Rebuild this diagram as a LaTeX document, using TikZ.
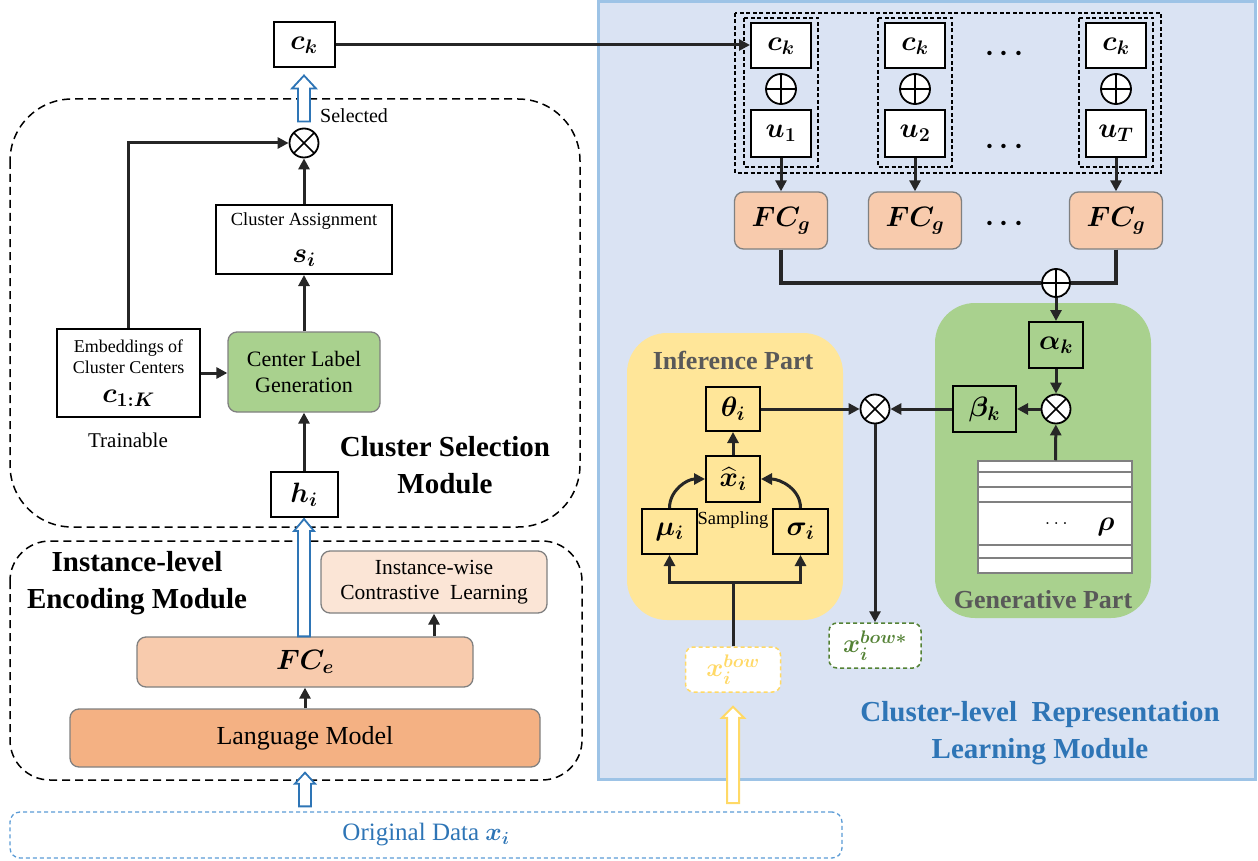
\RequirePackage{fix-cm}
\documentclass[tikz,border=0pt]{standalone}
\usepackage{amsmath,bm}
\usepackage{fontspec}
\setmainfont{Liberation Serif}
\usetikzlibrary{arrows.meta, calc}

\definecolor{panelfill}{HTML}{DAE3F3}
\definecolor{panelline}{HTML}{9DC3E6}
\definecolor{darkblue}{HTML}{2E75B6}
\definecolor{dashblue}{HTML}{5B9BD5}
\definecolor{leaf}{HTML}{A9D18E}
\definecolor{sand}{HTML}{FFE699}
\definecolor{sandline}{HTML}{FFD966}
\definecolor{peach}{HTML}{F8CBAD}
\definecolor{apricot}{HTML}{F4B183}
\definecolor{blush}{HTML}{FBE5D6}
\definecolor{slate}{HTML}{595959}
\definecolor{moss}{HTML}{548235}

\newcommand{\fsz}[2]{\fontsize{#1}{#2}\selectfont}

\begin{document}
\begin{tikzpicture}[x = 1pt, y = -1pt, > = {Triangle[length=11pt, width=11pt]},
	symbox/.style = {draw, line width=2pt, inner sep=0pt, font=\fsz{28}{32}},
	tinted/.style = {draw=gray, line width=1.3pt, rounded corners=9pt, inner sep=0pt, align=center},
	flow/.style = {->, line width=3pt, black!85},
	wire/.style = {line width=3.6pt, black!85},
	opnode/.style = {circle, draw, line width=1.8pt, fill=white, minimum size=29pt, inner sep=0pt},
	mulnode/.style = {opnode, path picture={\draw [line width=1.6pt] (path picture bounding box.north west) -- (path picture bounding box.south east) (path picture bounding box.north east) -- (path picture bounding box.south west);}},
	addnode/.style = {opnode, path picture={\draw [line width=1.6pt] (path picture bounding box.north) -- (path picture bounding box.south) (path picture bounding box.west) -- (path picture bounding box.east);}},
	module/.style = {dash pattern=on 8pt off 5pt, line width=1.5pt},
	heading/.style = {font=\bfseries\fsz{29}{37}, align=center, inner sep=0pt},
	partname/.style = {font=\bfseries\fsz{26}{30}, text=slate, inner sep=0pt},
	txt/.style = {inner sep=0pt, align=center},
	hollow/.style = {line width=1.8pt, fill=white},
]

	\useasboundingbox (0,0) rectangle (1258,861);

	% Backgrounds
	
	\draw [panelline, fill=panelfill, line width=3pt] (598,2) rectangle (1255,779);
	\fill [sand, rounded corners=40pt] (627,333) rectangle (843,620);
	\fill [leaf, rounded corners=40pt] (935,303) rectangle (1151,618);
	\draw [module, rounded corners=62pt] (10,99) rectangle (580,527);
	\draw [module, rounded corners=40pt] (10,541) rectangle (582,780);
	
	% Cluster selection module
	
	\node [symbox, fill=white, minimum width=61pt, minimum height=45pt] (ck) at (304,45) {$\bm{c_k}$};
	\node [mulnode] (selmul) at (304,143) {};
	\node [txt, font=\fsz{20}{22}, anchor=west] (sel) at (320,116) {Selected};
	\node [symbox, fill=white, minimum width=176pt, minimum height=69pt, align=center] (assign) at (304,239.5) {\fsz{18.5}{20}Cluster Assignment\\[5pt]\fsz{28}{30}$\bm{s_i}$};
	\node [symbox, fill=white, minimum width=143pt, minimum height=88pt, align=center, font=\fsz{18}{21}] (emb) at (128.5,373) {Embeddings of\\Cluster Centers\\[8pt]\fsz{28}{30}$\bm{c_{1:K}}$};
	\node [txt, font=\fsz{21}{22}] (train) at (128,440) {Trainable};
	\node [tinted, fill=leaf, minimum width=152pt, minimum height=80pt, font=\fsz{22}{26}] (clg) at (304,372) {Center Label\\Generation};
	\node [symbox, fill=white, minimum width=67pt, minimum height=45pt] (hi) at (304,494.5) {$\bm{h_i}$};
	\node [heading] (selname) at (445,465) {Cluster Selection\\Module};
	
	% Instance-level encoding module
	
	\node [heading] (encname) at (137,583.5) {Instance-level\\Encoding Module};
	\node [tinted, fill=blush, minimum width=226pt, minimum height=62pt, font=\fsz{21.5}{25}] (icl) at (434,582) {Instance-wise\\Contrastive\ \ Learning};
	\node [tinted, fill=peach, minimum width=336pt, minimum height=50pt, font=\fsz{28}{30}] (fce) at (305,662) {$\bm{FC_e}$};
	\node [tinted, fill=apricot, minimum width=470pt, minimum height=58pt, font=\fsz{26}{30}] (lm) at (305,738) {Language Model};
	\node [draw=dashblue, dash pattern=on 4pt off 3pt, line width=1.3pt, rounded corners=10pt, minimum width=832pt, minimum height=46pt, inner sep=0pt, text=darkblue, font=\fsz{25}{30}] (orig) at (426,835) {Original Data $\bm{x_i}$};
	
	% Cluster-conditioned generators
	
	\draw [dash pattern=on 4pt off 2.5pt, line width=1.4pt] (735,13) rectangle (1161,173);
	\foreach \cx/\n/\sub in {781/1/1, 915/2/2, 1116/3/T} {
		\draw [dash pattern=on 4pt off 2.5pt, line width=1.4pt] (\cx-37,18) rectangle (\cx+37,167);
		\node [symbox, fill=white, minimum width=60pt, minimum height=45pt] (ck\n) at (\cx,46) {$\bm{c_k}$};
		\node [addnode, minimum size=30pt] (cat\n) at (\cx,89) {};
		\node [symbox, fill=white, minimum width=60pt, minimum height=47pt] (u\n) at (\cx,133.5) {$\bm{u_{\sub}}$};
		\node [tinted, fill=peach, minimum width=93pt, minimum height=57pt, font=\fsz{28}{30}] (fcg\n) at (\cx,220.5) {$\bm{FC_g}$};
		\draw [flow] (u\n) -- (fcg\n);
	}
	\foreach \dy/\n in {54/1, 147/2, 224/3}
		\node [txt, font=\fsz{28}{30}] (dots\n) at (1007,\dy) {$\bm{\cdots}$};
	\node [addnode, minimum size=28pt] (sum) at (1056,283) {};
	
	% Generative part
	
	\node [symbox, minimum width=54pt, minimum height=46pt] (alpha) at (1056,345) {$\bm{\alpha_k}$};
	\node [mulnode] (genmul) at (1056,409) {};
	\node [symbox, minimum width=63pt, minimum height=46pt] (beta) at (984.5,409) {$\bm{\beta_k}$};
	\node [draw=gray, line width=1.5pt, fill=white, minimum width=154pt, minimum height=112pt, inner sep=0pt] (rho) at (1055,517) {};
	\foreach \ry in {472, 487, 502, 545, 558}
		\draw [gray, line width=1.5pt] (978,\ry) -- (1132,\ry);
	\node [txt, font=\fsz{20}{24}] (rdots) at (1058,524) {$\dots$};
	\node [txt, font=\fsz{28}{30}] (rhoname) at (1106,527) {$\bm{\rho}$};
	\node [partname] (genname) at (1043,600) {Generative Part};
	
	% Inference part
	
	\node [partname] (infname) at (733,360) {Inference Part};
	\node [symbox, minimum width=54pt, minimum height=44pt] (theta) at (733,409) {$\bm{\theta_i}$};
	\node [symbox, minimum width=54pt, minimum height=46pt] (xhat) at (733,479) {$\bm{\widehat{x}_i}$};
	\node [symbox, minimum width=55pt, minimum height=45pt] (mu) at (669.5,531.5) {$\bm{\mu_i}$};
	\node [symbox, minimum width=55pt, minimum height=45pt] (sigma) at (800.5,531.5) {$\bm{\sigma_i}$};
	\node [txt, font=\fsz{18.5}{20}] (samp) at (733,520) {Sampling};
	\node [mulnode] (infmul) at (875,409) {};
	\node [draw=moss, dash pattern=on 4pt off 3pt, line width=1.5pt, fill=white, rounded corners=8pt, minimum width=92pt, minimum height=45pt, inner sep=0pt, text=moss, font=\fsz{26}{30}] (xrec) at (875,645.5) {$\bm{x_i^{bow*}}$};
	\node [draw=sandline, dash pattern=on 4pt off 3pt, line width=1.5pt, fill=white, rounded corners=8pt, minimum width=95pt, minimum height=45pt, inner sep=0pt, text=sandline, font=\fsz{26}{30}] (xbow) at (733,669.5) {$\bm{x_i^{bow}}$};
	\coordinate (split) at (733,582);
	\coordinate (bowbase) at (733,803);
	\node [heading, text=darkblue] (clrname) at (1040,733.5) {Cluster-level\ \ Representation\\Learning Module};
	
	% Connectors
	
	\draw [flow] (ck.east) -- (ck.east -| ck1.west);
	\draw [flow] (emb.north) |- (selmul.west);
	\draw [flow] (emb.east) -- (emb.east -| clg.west);
	\draw [flow] (clg) -- (assign);
	\draw [flow] (assign) -- (selmul);
	\draw [flow] (hi) -- (clg);
	\draw [flow] (lm) -- (fce);
	\draw [flow] (fce.north -| icl.south) -- (icl.south);
	
	\draw [wire] (fcg1.south) |- (sum.west);
	\draw [wire] (fcg3.south) |- (sum.east);
	\draw [flow] (sum) -- (alpha);
	\draw [flow] (alpha) -- (genmul);
	\draw [flow] (rho) -- (genmul);
	\draw [flow] (genmul) -- (beta);
	\draw [flow] (beta) -- (infmul);
	\draw [flow] (theta) -- (infmul);
	\draw [flow] (infmul) -- (xrec);
	\draw [flow] (xhat) -- (theta);
	\draw [flow] (mu.north) to [out=90, in=180] (xhat.west);
	\draw [flow] (sigma.north) to [out=90, in=0] (xhat.east);
	\draw [flow, -] (xbow) -- (split);
	\draw [flow] (split) -| (mu);
	\draw [flow] (split) -| (sigma);
	
	% Hollow data arrows
	
	\filldraw [hollow, draw=darkblue] let \p1 = (orig.north), \p2 = (lm.south) in
		(\x2-6pt,\y1+5pt) -- (\x2-6pt,\y2-16pt) -- (\x2-10pt,\y2-16pt) -- (\x2,\y2-5pt)
		-- (\x2+10pt,\y2-16pt) -- (\x2+6pt,\y2-16pt) -- (\x2+6pt,\y1+5pt) -- cycle;
	\filldraw [hollow, draw=darkblue] let \p1 = (fce.north), \p2 = (hi.south) in
		(\x2-6pt,\y1) -- (\x2-6pt,\y2-13pt) -- (\x2-10pt,\y2-13pt) -- (\x2,\y2-1pt)
		-- (\x2+10pt,\y2-13pt) -- (\x2+6pt,\y2-13pt) -- (\x2+6pt,\y1) -- cycle;
	\filldraw [hollow, draw=darkblue] let \p1 = (selmul.north), \p2 = (ck.south) in
		(\x2-6pt,\y1+6pt) -- (\x2-6pt,\y2-20pt) -- (\x2-12pt,\y2-20pt) -- (\x2,\y2-7pt)
		-- (\x2+12pt,\y2-20pt) -- (\x2+6pt,\y2-20pt) -- (\x2+6pt,\y1+6pt) -- cycle;
	\filldraw [hollow, draw=sandline, line width=2pt] let \p1 = (bowbase), \p2 = (xbow.south) in
		(\x2-6pt,\y1) -- (\x2-6pt,\y2-25pt) -- (\x2-11pt,\y2-25pt) -- (\x2,\y2-14pt)
		-- (\x2+11pt,\y2-25pt) -- (\x2+6pt,\y2-25pt) -- (\x2+6pt,\y1) -- cycle;

\end{tikzpicture}
\end{document}
